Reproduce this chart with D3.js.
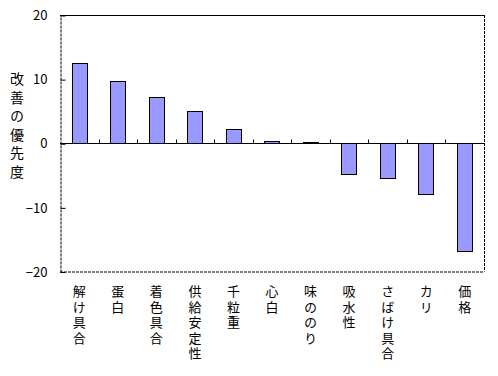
<!DOCTYPE html>
<html lang="ja">
<head>
<meta charset="UTF-8">
<title>改善の優先度</title>
<style>
  body { margin: 0; background: #fff; }
  text { font-family: "Noto Sans CJK JP", sans-serif; fill: #000; }
  .vert { writing-mode: vertical-rl; text-orientation: upright; }
</style>
</head>
<body>
<svg width="498" height="376"></svg>
<script src="https://cdnjs.cloudflare.com/ajax/libs/d3/7.8.5/d3.min.js"></script>
<script>

var categories = ["解け具合", "蛋白", "着色具合", "供給安定性", "千粒重", "心白", "味ののり", "吸水性", "さばけ具合", "カリ", "価格"];
var values = [12.5, 9.7, 7.2, 5.0, 2.3, 0.35, 0.2, -4.8, -5.45, -7.9, -16.8];
var yTicks = [-20, -10, 0, 10, 20];
var yTitle = "改善の優先度";

var plot = {left: 60, right: 484, top: 15, bottom: 271.5};

var svg = d3.select("svg");

var x = d3.scaleBand().domain(categories).range([plot.left, plot.right]).paddingInner(0.6).paddingOuter(0.3);
var y = d3.scaleLinear().domain([-20, 20]).range([plot.bottom, plot.top]);
var yZero = Math.round(y(0));

// bars
svg.selectAll(".bar")
  .data(values)
  .enter()
  .append("rect")
  .attr("class", "bar")
  .attr("x", function(d, i) { return Math.round(x(categories[i])) + 0.5; })
  .attr("width", Math.round(x.bandwidth()))
  .attr("y", function(d) { return (d > 0 ? Math.round(y(d)) : yZero) + 0.5; })
  .attr("height", function(d) { return Math.max(Math.abs(Math.round(y(d)) - yZero), 1); })
  .attr("fill", "#9999ff")
  .attr("stroke", "#000")
  .attr("stroke-width", 1);

// frame
svg.append("line").attr("x1", plot.left).attr("x2", plot.right).attr("y1", plot.top + 0.5).attr("y2", plot.top + 0.5)
  .attr("stroke", "#000");
svg.append("line").attr("x1", plot.right + 0.5).attr("x2", plot.right + 0.5).attr("y1", plot.top).attr("y2", plot.bottom)
  .attr("stroke", "#000").attr("stroke-dasharray", "3,1");
svg.append("line").attr("x1", plot.left).attr("x2", plot.right).attr("y1", plot.bottom + 0.5).attr("y2", plot.bottom + 0.5)
  .attr("stroke", "#000").attr("stroke-dasharray", "3,1");

// zero line with category ticks
var y0 = yZero + 0.5;
var bounds = d3.range(1, categories.length).map(function(i) { return plot.left + i * (plot.right - plot.left) / categories.length; });
svg.append("line").attr("x1", plot.left).attr("x2", plot.right).attr("y1", y0).attr("y2", y0).attr("stroke", "#000");
svg.selectAll(".xtick")
  .data(bounds)
  .enter()
  .append("line")
  .attr("x1", function(d) { return Math.round(d) + 0.5; })
  .attr("x2", function(d) { return Math.round(d) + 0.5; })
  .attr("y1", y0).attr("y2", y0 - 4)
  .attr("stroke", "#000");

// y axis
var yAxis = d3.axisLeft(y).tickValues(yTicks).tickSize(-5).tickSizeOuter(0).tickPadding(13);
var ga = svg.append("g").attr("transform", "translate(" + (plot.left + 0.5) + ",0.5)").call(yAxis);
ga.select(".domain").attr("stroke-dasharray", "3,1");
ga.selectAll("text").style("font-family", "\"Noto Sans CJK JP\", sans-serif").style("font-size", "13px");

// y title, vertical
svg.append("text").attr("class", "vert")
  .attr("x", 17).attr("y", 72)
  .style("font-size", "14px").style("letter-spacing", "4.5px")
  .text(yTitle);

// category labels, vertical
svg.selectAll(".cat")
  .data(categories)
  .enter()
  .append("text")
  .attr("class", "vert cat")
  .attr("x", function(d) { return x(d) + x.bandwidth() / 2; })
  .attr("y", 285)
  .style("font-size", "13px").style("letter-spacing", "2.5px")
  .text(function(d) { return d; });

</script>
</body>
</html>
